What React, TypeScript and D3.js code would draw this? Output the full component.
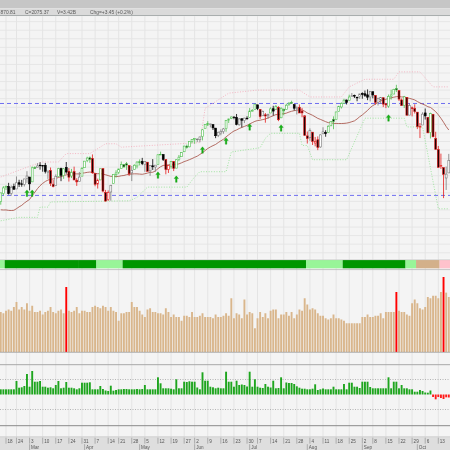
import React from "react";
import * as d3 from "d3";

// ---------- DATA ----------
const dates = [
"2014-02-13","2014-02-14","2014-02-18","2014-02-19","2014-02-20","2014-02-21","2014-02-24","2014-02-25","2014-02-26","2014-02-27","2014-02-28",
"2014-03-03","2014-03-04","2014-03-05","2014-03-06","2014-03-07","2014-03-10","2014-03-11","2014-03-12","2014-03-13","2014-03-14","2014-03-17","2014-03-18","2014-03-19","2014-03-20","2014-03-21","2014-03-24","2014-03-25","2014-03-26","2014-03-27","2014-03-28","2014-03-31",
"2014-04-01","2014-04-02","2014-04-03","2014-04-04","2014-04-07","2014-04-08","2014-04-09","2014-04-10","2014-04-11","2014-04-14","2014-04-15","2014-04-16","2014-04-17","2014-04-21","2014-04-22","2014-04-23","2014-04-24","2014-04-25","2014-04-28","2014-04-29","2014-04-30",
"2014-05-01","2014-05-02","2014-05-05","2014-05-06","2014-05-07","2014-05-08","2014-05-09","2014-05-12","2014-05-13","2014-05-14","2014-05-15","2014-05-16","2014-05-19","2014-05-20","2014-05-21","2014-05-22","2014-05-23","2014-05-27","2014-05-28","2014-05-29","2014-05-30",
"2014-06-02","2014-06-03","2014-06-04","2014-06-05","2014-06-06","2014-06-09","2014-06-10","2014-06-11","2014-06-12","2014-06-13","2014-06-16","2014-06-17","2014-06-18","2014-06-19","2014-06-20","2014-06-23","2014-06-24","2014-06-25","2014-06-26","2014-06-27","2014-06-30",
"2014-07-01","2014-07-02","2014-07-03","2014-07-07","2014-07-08","2014-07-09","2014-07-10","2014-07-11","2014-07-14","2014-07-15","2014-07-16","2014-07-17","2014-07-18","2014-07-21","2014-07-22","2014-07-23","2014-07-24","2014-07-25","2014-07-28","2014-07-29","2014-07-30","2014-07-31",
"2014-08-01","2014-08-04","2014-08-05","2014-08-06","2014-08-07","2014-08-08","2014-08-11","2014-08-12","2014-08-13","2014-08-14","2014-08-15","2014-08-18","2014-08-19","2014-08-20","2014-08-21","2014-08-22","2014-08-25","2014-08-26","2014-08-27","2014-08-28","2014-08-29",
"2014-09-02","2014-09-03","2014-09-04","2014-09-05","2014-09-08","2014-09-09","2014-09-10","2014-09-11","2014-09-12","2014-09-15","2014-09-16","2014-09-17","2014-09-18","2014-09-19","2014-09-22","2014-09-23","2014-09-24","2014-09-25","2014-09-26","2014-09-29","2014-09-30",
"2014-10-01","2014-10-02","2014-10-03","2014-10-06","2014-10-07","2014-10-08","2014-10-09","2014-10-10","2014-10-13","2014-10-14","2014-10-15","2014-10-16","2014-10-17"
];

const opens = [
1814.9,1828.5,1839.0,1841.1,1829.2,1841.1,1836.8,1847.7,1845.8,1844.9,1855.1,
1857.7,1849.2,1874.1,1874.2,1878.5,1877.9,1878.3,1866.2,1869.1,1845.1,1842.8,1858.9,1872.3,1860.1,1874.5,1867.7,1859.5,1867.1,1852.1,1850.1,1859.2,
1874.0,1886.6,1891.4,1890.3,1863.9,1845.5,1852.6,1872.3,1830.7,1818.2,1831.5,1846.0,1861.7,1865.8,1872.6,1879.3,1881.0,1877.7,1865.0,1870.8,1877.1,
1884.4,1885.3,1879.5,1883.7,1868.5,1877.4,1875.3,1880.0,1896.8,1897.1,1888.2,1871.2,1876.7,1884.9,1873.3,1888.2,1893.3,1902.0,1911.8,1910.6,1920.3,
1923.9,1923.1,1923.1,1928.5,1942.4,1949.0,1950.3,1949.4,1943.4,1930.8,1934.8,1937.2,1942.7,1957.5,1960.5,1962.9,1962.0,1949.3,1959.9,1956.6,1960.8,
1962.3,1973.1,1975.9,1984.2,1976.4,1965.1,1966.7,1965.0,1969.9,1977.4,1976.4,1979.8,1961.5,1976.9,1975.7,1985.3,1988.1,1984.6,1978.3,1980.0,1973.2,1965.1,
1929.8,1926.6,1936.3,1917.3,1923.0,1910.4,1933.4,1935.7,1935.6,1947.4,1958.9,1958.4,1972.7,1980.5,1986.8,1992.6,1991.7,1998.6,2000.5,1997.4,1998.5,
2004.1,2003.6,2001.7,1998.0,2007.2,2000.7,1988.4,1992.9,1996.7,1986.0,1981.9,1999.3,2003.1,2012.7,2009.1,1992.8,1983.3,1997.3,1966.2,1979.0,1978.2,
1971.4,1945.8,1948.9,1970.0,1962.4,1935.6,1967.7,1925.6,1905.7,1877.1,1874.2,1856.0,1864.9
];

const highs = [
1830.3,1841.7,1842.9,1847.5,1842.8,1846.1,1858.7,1852.9,1852.7,1854.5,1867.9,
1857.7,1876.2,1876.5,1881.9,1883.6,1877.9,1882.4,1868.4,1874.4,1852.4,1862.3,1873.8,1874.1,1873.5,1884.0,1873.3,1871.9,1875.9,1855.6,1866.6,1875.2,
1885.8,1893.2,1893.8,1897.3,1864.0,1854.9,1872.4,1872.5,1835.1,1834.2,1844.0,1862.3,1869.6,1871.9,1884.9,1879.8,1884.1,1877.7,1877.0,1880.0,1885.2,
1888.6,1891.3,1885.5,1883.7,1878.8,1889.1,1878.6,1897.1,1902.2,1897.1,1888.2,1878.3,1886.0,1884.9,1888.8,1896.3,1901.3,1912.3,1914.5,1920.0,1924.0,
1925.9,1925.1,1928.6,1941.7,1949.4,1955.6,1950.9,1949.4,1943.4,1937.3,1941.2,1943.7,1957.7,1959.9,1963.9,1963.7,1968.2,1960.8,1959.9,1961.5,1964.2,
1978.6,1976.7,1985.6,1984.2,1976.4,1974.2,1969.8,1968.7,1979.9,1982.5,1983.9,1981.8,1979.9,1976.9,1986.2,1989.2,1991.4,1984.6,1981.5,1984.9,1978.9,1965.1,
1937.4,1942.9,1936.3,1927.9,1928.9,1932.4,1944.9,1939.7,1948.4,1955.2,1964.0,1972.0,1982.6,1988.6,1994.8,1993.5,2002.0,2005.0,2002.1,1998.6,2003.4,
2006.1,2009.3,2011.2,2007.7,2007.2,2001.0,1996.7,1997.7,1996.7,1987.2,2002.3,2010.7,2012.3,2019.3,2009.1,1995.4,1999.8,1997.3,1986.4,1981.3,1985.2,
1971.4,1952.3,1971.2,1977.8,1962.4,1970.4,1967.7,1937.0,1912.1,1898.7,1874.2,1876.0,1898.2
];

const lows = [
1809.2,1825.9,1835.0,1826.9,1824.9,1835.6,1836.8,1840.2,1840.7,1841.1,1847.5,
1834.4,1849.2,1871.9,1874.2,1870.6,1867.0,1863.9,1854.4,1841.9,1839.6,1842.8,1858.9,1850.4,1854.6,1863.5,1849.7,1855.9,1852.6,1842.1,1850.1,1859.2,
1874.0,1883.8,1882.7,1863.3,1841.5,1837.5,1852.4,1830.9,1814.4,1815.8,1816.3,1846.0,1856.7,1863.2,1872.6,1873.9,1870.2,1859.7,1850.6,1870.8,1872.7,
1878.0,1878.5,1866.8,1867.7,1859.8,1870.1,1867.0,1880.0,1896.1,1885.8,1862.4,1864.8,1872.4,1868.1,1873.3,1885.4,1893.3,1902.0,1907.3,1909.8,1916.6,
1915.9,1918.8,1918.6,1921.9,1942.4,1947.2,1944.6,1940.1,1925.8,1927.7,1930.9,1933.6,1937.0,1952.3,1959.2,1958.9,1948.3,1947.5,1944.7,1952.2,1958.2,
1962.3,1972.6,1975.9,1974.9,1959.5,1965.1,1952.9,1959.6,1969.9,1965.3,1975.7,1955.6,1960.8,1965.8,1975.7,1982.4,1985.8,1974.4,1967.3,1969.9,1962.4,1930.0,
1916.4,1921.2,1913.8,1911.5,1904.8,1909.0,1933.4,1928.3,1935.6,1947.4,1941.5,1958.4,1972.7,1977.7,1986.8,1984.8,1991.7,1998.6,1996.2,1990.5,1994.7,
1994.9,1998.1,1992.4,1990.1,1995.6,1984.6,1983.0,1985.9,1980.3,1978.5,1979.1,1993.3,2003.1,2006.6,1991.0,1982.8,1978.6,1966.0,1966.2,1964.0,1969.0,
1941.7,1926.0,1948.9,1958.4,1934.9,1925.3,1927.6,1906.1,1874.1,1871.8,1820.7,1835.0,1864.9
];

const closes = [
1829.83,1838.63,1840.76,1828.75,1839.78,1836.25,1847.61,1845.12,1845.16,1854.29,1859.45,
1845.73,1873.91,1873.81,1877.03,1878.04,1877.17,1867.63,1868.20,1846.34,1841.13,1858.83,1872.25,1860.77,1872.01,1866.52,1857.44,1865.62,1852.56,1849.04,1857.62,1872.34,
1885.52,1890.90,1888.77,1865.09,1845.04,1851.96,1872.18,1833.08,1815.69,1830.61,1842.98,1862.31,1864.85,1871.89,1879.55,1875.39,1878.61,1863.40,1869.43,1878.33,1883.95,
1883.68,1881.14,1884.66,1867.72,1878.21,1875.63,1878.48,1896.65,1897.45,1888.53,1870.85,1877.86,1885.08,1872.83,1888.03,1892.49,1900.53,1911.91,1909.78,1920.03,1923.57,
1924.97,1924.24,1927.88,1940.46,1949.44,1951.27,1950.79,1943.89,1930.11,1936.16,1937.78,1941.99,1956.98,1959.48,1962.87,1962.61,1949.98,1959.53,1957.22,1960.96,1960.23,
1973.32,1974.62,1985.44,1977.65,1963.71,1972.83,1964.68,1967.57,1977.10,1973.28,1981.57,1958.12,1978.22,1973.63,1983.53,1987.01,1987.98,1978.34,1978.91,1969.95,1970.07,1930.67,
1925.15,1938.99,1920.21,1920.24,1909.57,1931.59,1936.92,1933.75,1946.72,1955.18,1955.06,1971.74,1981.60,1986.51,1992.37,1988.40,1997.92,2000.02,2000.12,1996.74,2003.37,
2002.28,2000.72,1997.65,2007.71,2001.54,1988.44,1995.69,1997.45,1985.54,1984.13,1998.98,2001.57,2011.36,2010.40,1994.29,1982.77,1998.30,1965.99,1982.85,1977.80,1972.29,
1946.16,1946.17,1967.90,1964.82,1935.10,1968.89,1928.21,1906.13,1874.74,1877.70,1862.49,1862.76,1886.76
];

// closes before the first visible bar (used only to warm up the moving averages)
const warmupCloses = [1845.89,1838.70,1843.80,1844.86,1828.46,1790.29,1781.56,1792.50,1774.20,1794.19,1782.59,1741.89,1755.20,1751.64,1773.43,1797.02,1799.84,1819.75,1819.26];

// volume, billions of shares
const volumes = [
3.2,3.1,3.3,3.4,3.3,3.6,4.0,3.4,3.6,3.4,3.9,
3.3,3.7,3.2,3.2,3.3,3.0,3.2,3.3,3.6,3.2,3.1,3.3,3.4,3.1,5.2,3.3,3.2,3.3,3.6,3.1,3.3,
3.3,3.2,3.2,3.6,3.7,3.6,3.5,3.7,3.6,3.3,3.6,3.3,3.2,2.5,3.1,3.1,3.2,3.2,4.0,3.6,3.6,
3.3,3.0,2.8,3.4,3.5,3.2,3.2,3.1,3.1,3.0,3.5,3.2,2.8,3.0,2.8,2.8,2.5,2.9,2.9,2.8,3.2,
2.8,2.8,2.9,3.1,2.8,2.8,2.8,2.7,3.0,2.8,2.8,2.9,3.1,2.9,4.3,2.7,3.1,3.0,2.7,4.2,3.0,
3.2,3.1,1.9,2.7,3.2,2.8,3.1,2.7,3.3,3.4,3.4,2.7,3.0,3.0,3.2,2.9,3.2,2.7,3.0,3.4,3.3,4.3,
3.8,3.4,3.5,3.4,3.1,2.9,2.9,2.7,2.6,2.7,3.0,2.7,2.7,2.6,2.5,2.3,2.3,2.3,2.3,2.3,2.3,
2.8,2.8,3.0,2.8,2.8,2.9,2.9,3.1,2.7,3.2,3.2,3.2,3.2,4.8,3.3,3.2,3.2,3.0,2.9,3.9,4.2,
3.9,3.5,3.4,3.6,4.4,4.3,4.5,4.5,4.3,4.8,6.0,4.75,4.4
];
const volumeAlertDates = ["2014-03-21","2014-09-19","2014-10-15"];

// lower indicator histogram
const histValues = [
5.2,5.2,5.2,5.2,5.2,5.2,13.5,6.8,7.2,8.5,20.5,
7.8,23.5,12.8,12.8,13.5,7.8,7.8,6.8,7.2,6.2,9.5,13.5,6.2,6.8,12.5,6.8,6.8,6.2,5.2,6.2,11.8,
11.8,11.8,12.2,5.2,5.2,5.2,8.5,5.5,4.0,3.5,8.8,3.8,4.5,5.2,5.2,5.5,5.5,5.2,5.2,5.2,5.5,
5.2,5.5,9.5,5.2,5.2,5.2,5.2,17.2,11.2,6.2,6.2,6.2,5.8,5.2,15.2,6.2,6.2,12.8,12.5,13.2,12.8,
12.8,7.0,5.2,22.2,13.8,13.8,7.8,7.2,6.2,6.8,6.2,6.2,22.8,12.8,12.8,7.8,13.8,9.5,10.0,9.5,8.0,
22.8,7.8,15.2,7.8,6.8,6.5,10.5,7.8,7.0,13.8,6.2,6.5,17.2,6.2,12.0,11.5,11.5,10.5,8.2,6.8,5.8,5.8,
5.2,5.2,5.8,10.2,4.5,5.2,6.0,5.2,5.2,5.2,7.8,5.2,5.2,5.2,10.5,5.2,11.8,11.8,7.8,7.8,6.5,
12.8,12.8,12.8,7.5,6.2,6.2,6.2,6.2,6.2,6.2,17.2,6.2,12.8,12.8,6.2,9.5,6.2,6.2,5.2,5.2,2.8,
2.8,4.5,3.5,2.0,1.8,4.0,-2.5,-4.8,-2.5,-3.5,-4.5,-2.8,-3.0
];

const signalDates = ["2014-02-28","2014-03-04","2014-05-12","2014-05-21","2014-06-05","2014-06-18","2014-07-01","2014-07-18","2014-09-16"];
const signalPrices = [1829.0,1829.0,1860.6,1853.6,1904.6,1920.4,1945.0,1943.2,1960.8];

const hLinePrices = [1986.6, 1825.5];

// dotted envelope lines at their turning points
const upperEnvDates = ["2014-02-13","2014-03-04","2014-03-10","2014-03-18","2014-03-21","2014-04-03","2014-04-11","2014-04-17","2014-04-22","2014-06-04","2014-06-06","2014-06-19","2014-07-07","2014-07-29","2014-08-04","2014-08-20","2014-08-25","2014-09-03","2014-09-18","2014-09-22","2014-10-02","2014-10-09","2014-10-17"];
const upperEnvValues = [1857.7,1878.2,1884,1884,1898.8,1898.8,1916,1916,1910,1918,1978,2004.7,2010,2010,1998,1998,2015.7,2029,2029,2042,2042,2015.7,2015.7];
const lowerEnvDates = ["2014-02-13","2014-02-25","2014-03-06","2014-03-07","2014-03-12","2014-03-13","2014-04-25","2014-04-30","2014-05-06","2014-05-28","2014-06-02","2014-06-04","2014-06-18","2014-06-20","2014-07-08","2014-07-10","2014-07-14","2014-07-29","2014-07-30","2014-08-01","2014-08-05","2014-08-22","2014-09-03","2014-09-24","2014-09-25","2014-10-03","2014-10-13","2014-10-17"];
const lowerEnvValues = [1781,1787,1787,1805,1805,1814,1816,1822,1840,1840,1858,1867,1867,1901.6,1909,1925.6,1934.4,1934.4,1913,1913,1888,1888,1960.8,1960.8,1945.5,1945.5,1802,1802];

const bandStarts = ["2014-02-13","2014-02-18","2014-03-28","2014-04-08","2014-04-23","2014-08-01","2014-08-21","2014-09-25","2014-10-01","2014-10-14"];
const bandEnds   = ["2014-02-14","2014-03-27","2014-04-07","2014-04-22","2014-07-31","2014-08-20","2014-09-24","2014-09-30","2014-10-13","2014-10-17"];
const bandStates = ["weak","strong","strong","weak","strong","weak","strong","weak","neutral","down"];

const tickDates = ["2014-02-18","2014-02-24","2014-03-03","2014-03-10","2014-03-17","2014-03-24","2014-03-31","2014-04-07","2014-04-14","2014-04-21","2014-04-28",
"2014-05-05","2014-05-12","2014-05-19","2014-05-27","2014-06-02","2014-06-09","2014-06-16","2014-06-23","2014-06-30","2014-07-07","2014-07-14","2014-07-21","2014-07-28",
"2014-08-04","2014-08-11","2014-08-18","2014-08-25","2014-09-02","2014-09-08","2014-09-15","2014-09-22","2014-09-29","2014-10-06","2014-10-13"];
const monthDates = ["2014-03-03","2014-04-01","2014-05-01","2014-06-02","2014-07-01","2014-08-01","2014-09-02","2014-10-01"];
const monthLabels = ["Mar","Apr","May","Jun","Jul","Aug","Sep","Oct"];

const headerTexts = ["870.81","C=2075.37","V=3.42B","Chg=+3.45 (+0.2%)"];

// ---------- LAYOUT ----------
const W = 450, H = 450;
const PRICE_TOP = 16, PRICE_BOT = 258.5;
const RIB_TOP = 260, RIB_BOT = 268.3;
const VOL_BOT = 352;
const IND_TOP = 364.7, IND_BOT = 436.7;
const AXIS_TOP = 436.7;
const FONT = "Liberation Sans, Arial, sans-serif";

function ema(arr: number[], n: number) {
  const k = 2 / (n + 1);
  const out: number[] = [];
  arr.forEach((v, i) => out.push(i === 0 ? v : v * k + out[i - 1] * (1 - k)));
  return out;
}

export default function App() {
  const x = d3.scaleBand<string>().domain(dates).range([-0.55, -0.55 + dates.length * 2.62]).padding(0);
  const cx = (d: string) => (x(d) as number) + x.bandwidth() / 2;
  const step = x.step();

  const y = d3.scaleLinear().domain([1714.9, 2139.9]).range([PRICE_BOT, PRICE_TOP]);
  const yv = d3.scaleLinear().domain([0, 6.4]).range([VOL_BOT, VOL_BOT - 80]);
  const yi = d3.scaleLinear().domain([-30, 30]).range([424.5, 364.5]);

  // indicators computed from the closes
  const allCloses = warmupCloses.concat(closes);
  const off = warmupCloses.length;
  const sma20 = closes.map((_, i) => d3.mean(allCloses.slice(i + off - 19, i + off + 1)) as number);
  const e13 = ema(allCloses, 13);
  const e26 = ema(allCloses, 26);
  const macd = ema(allCloses, 12).map((v, i) => v - e26[i]);
  const sig = ema(macd, 9);
  const hist = macd.map((v, i) => v - sig[i]);
  const impulse = closes.map((_, i) => {
    const j = i + off;
    const up = e13[j] > e13[j - 1] && hist[j] > hist[j - 1];
    const dn = e13[j] < e13[j - 1] && hist[j] < hist[j - 1];
    return up ? "up" : dn ? "down" : "flat";
  });

  const maLine = d3.line<number>().x((_, i) => cx(dates[i])).y(v => y(v));
  const envLine = d3.line<[string, number]>().x(d => cx(d[0])).y(d => y(d[1]));
  const upperPts = upperEnvDates.map((d, i) => [d, upperEnvValues[i]] as [string, number]);
  const lowerPts = lowerEnvDates.map((d, i) => [d, lowerEnvValues[i]] as [string, number]);

  const gridPrices = d3.range(1725, 2140, 15);
  const bandColor: Record<string, string> = { strong: "#009600", weak: "#98f598", neutral: "#d3b08a", down: "#ffc2cc" };

  const arrow = (px: number, py: number) =>
    `M${px},${py - 3.5} L${px + 2.2},${py - 0.8} L${px + 0.8},${py - 0.8} L${px + 0.8},${py + 3} L${px - 0.8},${py + 3} L${px - 0.8},${py - 0.8} L${px - 2.2},${py - 0.8} Z`;

  return (
    <div style={{ position: "fixed", left: 0, top: 0, width: W, height: H }}>
      <svg width={W} height={H} style={{ display: "block", fontFamily: FONT }}>
        {/* header */}
        <rect x={0} y={0} width={W} height={8.3} fill="#c6c6c6" />
        <rect x={0} y={8.3} width={W} height={7.2} fill="#dadada" />
        <line x1={0} x2={W} y1={15.7} y2={15.7} stroke="#9aa0a0" strokeWidth={1} />
        {headerTexts.map((t, i) => (
          <text key={t} x={[0.6, 25, 57, 90][i]} y={14.2} fontSize={4.9} fill="#5a5a5a">{t}</text>
        ))}

        {/* panel backgrounds */}
        <rect x={0} y={16.2} width={W} height={PRICE_BOT - 16.2} fill="#f4f4f4" />
        <rect x={0} y={PRICE_BOT} width={W} height={IND_TOP - PRICE_BOT} fill="#f4f4f4" />
        <rect x={0} y={IND_TOP} width={W} height={IND_BOT - IND_TOP} fill="#f4f4f4" />

        {/* grid */}
        {gridPrices.map(p => (
          <line key={p} x1={0} x2={W} y1={y(p)} y2={y(p)} stroke="#e6e6e6" strokeWidth={1} />
        ))}
        {tickDates.map(d => (
          <line key={d} x1={cx(d)} x2={cx(d)} y1={16.2} y2={IND_BOT} stroke="#e4e4e4" strokeWidth={1} />
        ))}

        {/* horizontal level lines */}
        {hLinePrices.map(p => (
          <line key={p} x1={0} x2={W} y1={y(p)} y2={y(p)} stroke="#6f6ff0" strokeWidth={1} strokeDasharray="4,3" />
        ))}

        {/* envelope lines */}
        <path d={envLine(upperPts) || ""} fill="none" stroke="#f3a6b6" strokeWidth={0.8} strokeDasharray="1,1.6" />
        <path d={envLine(lowerPts) || ""} fill="none" stroke="#8ddf8d" strokeWidth={0.8} strokeDasharray="1,1.6" />

        {/* moving average */}
        <path d={maLine(sma20) || ""} fill="none" stroke="#a8554a" strokeWidth={1} strokeOpacity={0.85} />

        {/* candles */}
        {dates.map((d, i) => {
          const o = opens[i], c = closes[i];
          const rising = c >= o;
          const imp = impulse[i];
          const col = imp === "up" ? "#4fbf4f" : imp === "down" ? "#e41a1a" : rising ? "#7a7a7a" : "#000";
          const top = y(Math.max(o, c)), bot = y(Math.min(o, c));
          return (
            <g key={d}>
              <line x1={cx(d)} x2={cx(d)} y1={y(highs[i])} y2={y(lows[i])} stroke={col} strokeWidth={0.8} />
              <rect x={cx(d) - 0.95} y={top} width={1.9} height={Math.max(0.6, bot - top)}
                fill={rising ? "#ffffff" : imp === "down" ? "#1a0000" : "#000"} stroke={col} strokeWidth={0.6} />
            </g>
          );
        })}

        {/* signal arrows */}
        {signalDates.map((d, i) => (
          <path key={d} d={arrow(cx(d), y(signalPrices[i]))} fill="#16b316" stroke="#0a8a0a" strokeWidth={0.3} />
        ))}

        {/* ribbon */}
        {bandStarts.map((s, i) => {
          const x0 = x(s) as number;
          const x1 = (x(bandEnds[i]) as number) + step;
          return <rect key={s} x={x0} y={RIB_TOP} width={x1 - x0} height={RIB_BOT - RIB_TOP} fill={bandColor[bandStates[i]]} />;
        })}
        <line x1={0} x2={W} y1={RIB_TOP - 0.3} y2={RIB_TOP - 0.3} stroke="#c8c8c8" strokeWidth={0.6} />
        <line x1={0} x2={W} y1={269.6} y2={269.6} stroke="#b8b8b8" strokeWidth={0.8} />

        {/* volume */}
        {dates.map((d, i) => {
          const alert = volumeAlertDates.includes(d);
          return (
            <rect key={d} x={cx(d) - 0.95} y={yv(volumes[i])} width={1.9} height={VOL_BOT - yv(volumes[i])}
              fill={alert ? "#ff0000" : "#d9b68c"} />
          );
        })}
        <line x1={0} x2={W} y1={VOL_BOT + 0.3} y2={VOL_BOT + 0.3} stroke="#a0a0a0" strokeWidth={0.8} />

        {/* indicator panel */}
        <line x1={0} x2={W} y1={IND_TOP} y2={IND_TOP} stroke="#a8a8a8" strokeWidth={1} />
        {[15, -15].map(v => (
          <line key={v} x1={0} x2={W} y1={yi(v)} y2={yi(v)} stroke="#9a9a9a" strokeWidth={0.7} strokeDasharray="1,1.5" />
        ))}
        {dates.map((d, i) => {
          const v = histValues[i];
          const y0 = yi(0), y1 = yi(v);
          return (
            <rect key={d} x={cx(d) - 0.95} y={Math.min(y0, y1)} width={1.9} height={Math.abs(y1 - y0)}
              fill={v >= 0 ? "#1ea51e" : "#ff1a1a"} />
          );
        })}
        <line x1={0} x2={W} y1={425.7} y2={425.7} stroke="#8a8a8a" strokeWidth={1} />

        {/* axis */}
        <rect x={0} y={AXIS_TOP} width={W} height={H - AXIS_TOP} fill="#dedede" />
        <line x1={0} x2={W} y1={AXIS_TOP} y2={AXIS_TOP} stroke="#c4c4c4" strokeWidth={0.6} />
        {tickDates.map(d => (
          <g key={d}>
            <line x1={cx(d)} x2={cx(d)} y1={AXIS_TOP + 1} y2={AXIS_TOP + 7} stroke="#8a8a8a" strokeWidth={0.6} />
            <text x={cx(d) + 1.5} y={AXIS_TOP + 6} fontSize={4.6} fill="#555">{+d.slice(8)}</text>
          </g>
        ))}
        {monthDates.map((d, i) => (
          <g key={d}>
            <line x1={cx(d)} x2={cx(d)} y1={AXIS_TOP + 7.5} y2={H} stroke="#8a8a8a" strokeWidth={0.6} />
            <text x={cx(d) + 1.5} y={AXIS_TOP + 12.5} fontSize={4.6} fill="#555">{monthLabels[i]}</text>
          </g>
        ))}
      </svg>
    </div>
  );
}
